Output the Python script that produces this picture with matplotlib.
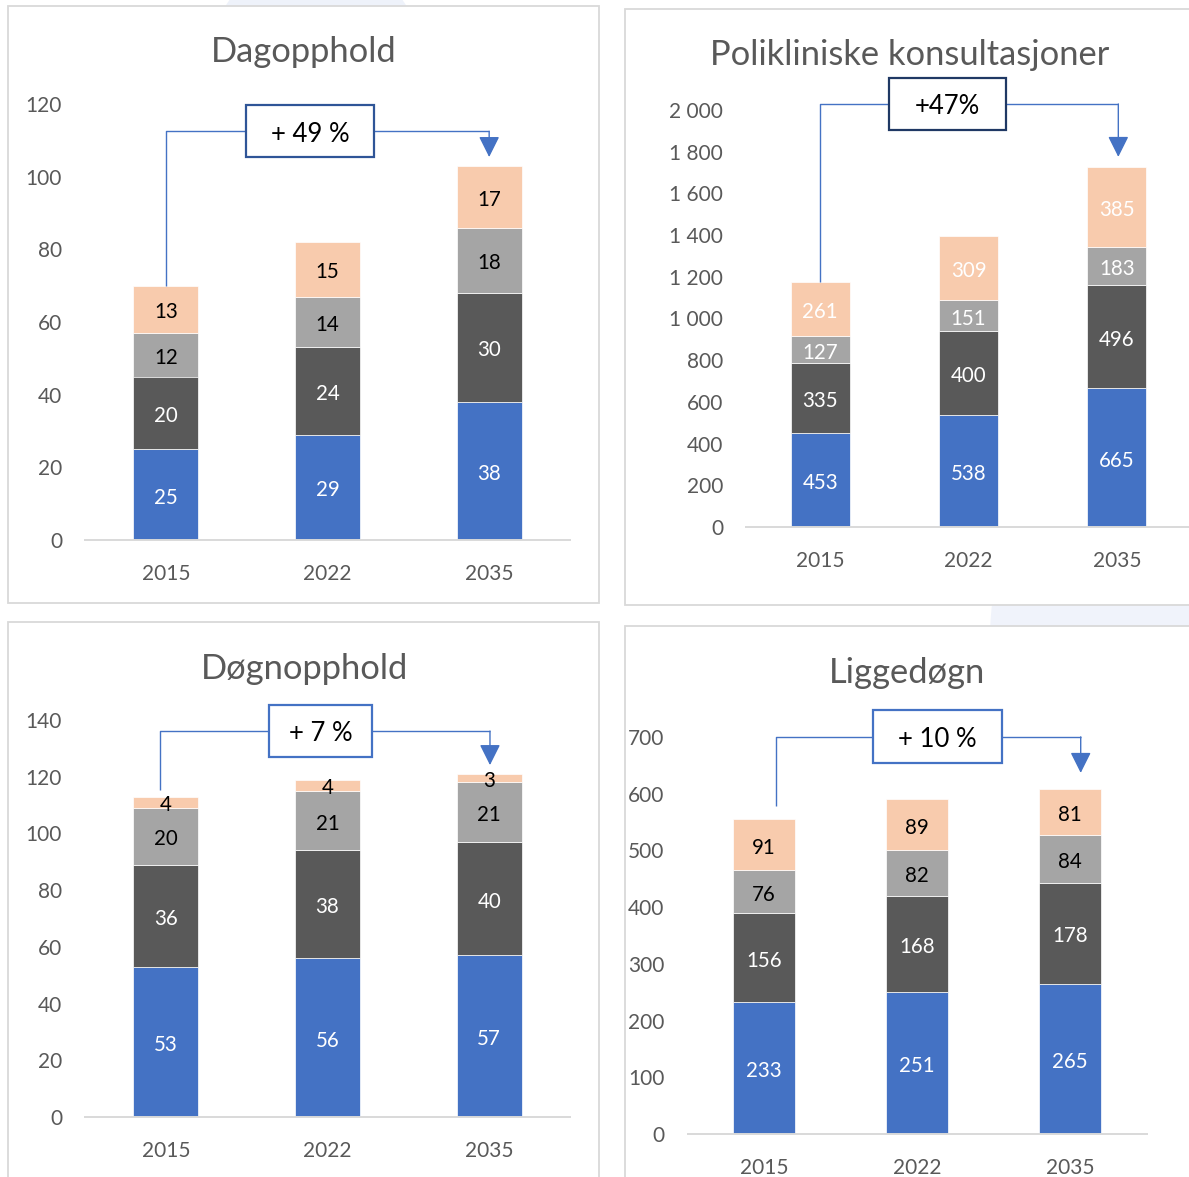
import matplotlib
matplotlib.use("Agg")
import matplotlib.pyplot as plt
from matplotlib.patches import Rectangle, Ellipse

plt.rcParams['font.family'] = ['Lato', 'DejaVu Sans']

# ---- data -------------------------------------------------------------
years = ["2015", "2022", "2035"]

dag_blue = [25, 29, 38]
dag_dark = [20, 24, 30]
dag_grey = [12, 14, 18]
dag_peach = [13, 15, 17]

pol_blue = [453, 538, 665]
pol_dark = [335, 400, 496]
pol_grey = [127, 151, 183]
pol_peach = [261, 309, 385]

dogn_blue = [53, 56, 57]
dogn_dark = [36, 38, 40]
dogn_grey = [20, 21, 21]
dogn_peach = [4, 4, 3]

ligg_blue = [233, 251, 265]
ligg_dark = [156, 168, 178]
ligg_grey = [76, 82, 84]
ligg_peach = [91, 89, 81]

titles = ["Dagopphold", "Polikliniske konsultasjoner", "Døgnopphold", "Liggedøgn"]
growth_labels = ["+ 49 %", "+47%", "+ 7 %", "+ 10 %"]

# ---- styling ----------------------------------------------------------
W, H = 1189, 1177
C_BLUE = "#4472C4"
C_DARK = "#595959"
C_GREY = "#A5A5A5"
C_PEACH = "#F8CBAD"
TXT = "#595959"
BASE = "#D9D9D9"

fig = plt.figure(figsize=(W / 100, H / 100), dpi=100)
fig.patch.set_facecolor("white")


def fx(x):
    return x / W


def fy(y):
    return 1 - y / H


# faint decorative shapes behind the panels
fig.patches.append(Ellipse((fx(316), fy(40)), 200 / W, 160 / H,
                           transform=fig.transFigure, facecolor="#EEF2FA",
                           edgecolor="none", zorder=0))
fig.patches.append(Ellipse((fx(1200), fy(640)), 420 / W, 520 / H,
                           transform=fig.transFigure, facecolor="#F0F3FB",
                           edgecolor="none", zorder=0))

# panel frames: (left, top, right, bottom) in pixels
frames = [(8, 6, 599, 603), (625, 9, 1200, 605),
          (8, 622, 599, 1190), (625, 626, 1200, 1190)]
for (l, t, r, b) in frames:
    fig.patches.append(Rectangle((fx(l), fy(b)), (r - l) / W, (b - t) / H,
                                 transform=fig.transFigure, facecolor="white",
                                 edgecolor="#D9D9D9", linewidth=1.3, zorder=1))

# axes boxes: (left, right, top, bottom) in pixels
axes_px = [(85, 570, 104, 540), (746, 1191, 110, 527),
           (85, 570, 720, 1117), (687.5, 1146.5, 737, 1134)]
ylims = [(0, 120, 20), (0, 2000, 200), (0, 140, 20), (0, 700, 100)]
title_pos = [(304, 62), (910, 65), (304, 679), (907, 683)]

series = [
    (dag_blue, dag_dark, dag_grey, dag_peach),
    (pol_blue, pol_dark, pol_grey, pol_peach),
    (dogn_blue, dogn_dark, dogn_grey, dogn_peach),
    (ligg_blue, ligg_dark, ligg_grey, ligg_peach),
]
label_colors = [
    ["white", "white", "black", "black"],
    ["white", "white", "white", "white"],
    ["white", "white", "black", "black"],
    ["white", "white", "black", "black"],
]

# growth bracket layout (data units): level, box x0, box x1, box half height,
# left line x, left line bottom, arrow x, arrow tip, box edge colour
brackets = [
    (112.5, 0.496, 1.287, 7.2, 0.0, 70.0, 2.0, 105.4, "#2F5597"),
    (2029, 0.463, 1.251, 125, 0.0, 1176, 2.01, 1775, "#1F3864"),
    (136.1, 0.638, 1.275, 9.2, -0.036, 115.3, 2.005, 124.1, C_BLUE),
    (700.2, 0.712, 1.556, 46.7, 0.078, 578.5, 2.07, 636.7, C_BLUE),
]


def fmt_tick(v):
    return f"{int(v):,}".replace(",", " ")


for i in range(4):
    l, r, t, b = axes_px[i]
    ax = fig.add_axes([fx(l), fy(b), (r - l) / W, (b - t) / H])
    ax.set_zorder(2)
    ax.patch.set_alpha(0)
    ymin, ymax, step = ylims[i]
    ax.set_ylim(ymin, ymax)
    ax.set_xlim(-0.5, 2.5)
    ticks = list(range(ymin, ymax + 1, step))
    ax.set_yticks(ticks)
    ax.set_yticklabels([fmt_tick(v) for v in ticks])
    ax.set_xticks(range(len(years)))
    ax.set_xticklabels(years)
    ax.tick_params(axis="y", length=0, pad=16.5, labelsize=15, labelcolor=TXT)
    ax.tick_params(axis="x", length=0, pad=17.5, labelsize=15, labelcolor=TXT)
    for s in ("left", "right", "top"):
        ax.spines[s].set_visible(False)
    ax.spines["bottom"].set_color(BASE)
    ax.spines["bottom"].set_linewidth(1.4)

    x = list(range(len(years)))
    bottom = [0, 0, 0]
    for vals, col, lc in zip(series[i], [C_BLUE, C_DARK, C_GREY, C_PEACH],
                             label_colors[i]):
        cont = ax.bar(x, vals, width=0.4, bottom=bottom, color=col,
                      edgecolor="white", linewidth=0.5, zorder=2)
        texts = ax.bar_label(cont, labels=[str(v) for v in vals],
                             label_type="center", color=lc, fontsize=14.8,
                             zorder=4)
        for tx in texts:
            tx.xyann = (0, -2.2)
        bottom = [bb + v for bb, v in zip(bottom, vals)]

    # growth bracket
    lvl, bx0, bx1, bh, lx, lb, axx, tip, ec = brackets[i]
    ax.plot([lx, lx, bx0], [lb, lvl, lvl], color=C_BLUE, lw=1.0,
            clip_on=False, zorder=3, solid_capstyle="butt")
    ax.plot([bx1, axx], [lvl, lvl], color=C_BLUE, lw=1.0,
            clip_on=False, zorder=3, solid_capstyle="butt")
    ax.annotate("", xy=(axx, tip), xytext=(axx, lvl),
                arrowprops=dict(arrowstyle="-|>", color=C_BLUE, lw=1.0,
                                mutation_scale=32, shrinkA=0, shrinkB=0),
                annotation_clip=False, zorder=3)
    ax.add_patch(Rectangle((bx0, lvl - bh), bx1 - bx0, 2 * bh,
                           facecolor="white", edgecolor=ec, linewidth=1.6,
                           clip_on=False, zorder=3))
    ax.annotate(growth_labels[i], xy=((bx0 + bx1) / 2, lvl),
                xytext=(0, -2), textcoords="offset points",
                ha="center", va="center", fontsize=18.5, color="black",
                zorder=4, annotation_clip=False)

    tx0, ty0 = title_pos[i]
    fig.text(fx(tx0), fy(ty0), titles[i], ha="center", va="baseline",
             fontsize=24.8, color=TXT, zorder=5)

fig.savefig("out.png", dpi=100, facecolor="white")
